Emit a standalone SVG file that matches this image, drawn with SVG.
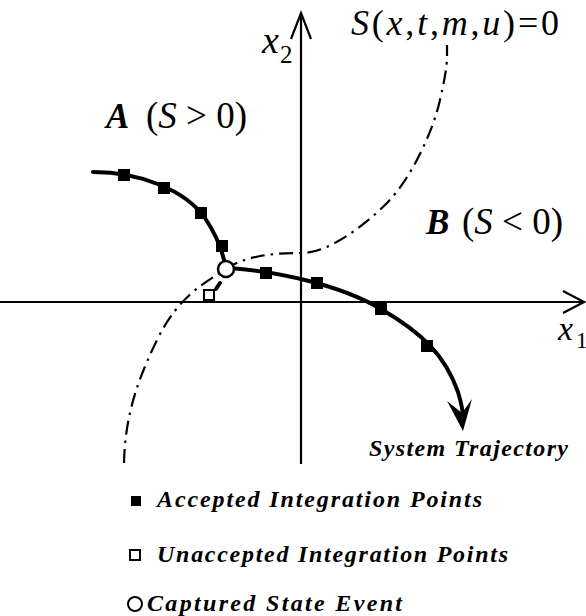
<svg xmlns="http://www.w3.org/2000/svg" width="586" height="616" viewBox="0 0 586 616">
<style>
.serif{font-family:"Liberation Serif","Times New Roman",serif;fill:#000}
.it{font-style:italic}
.bi{font-style:italic;font-weight:bold}
.axis{stroke:#000;stroke-width:2.2;fill:none}
.traj{stroke:#000;stroke-width:4;fill:none;stroke-linecap:round}
.sw{stroke:#000;stroke-width:2.2;fill:none;stroke-dasharray:14 6 2.5 6}
.acc{fill:#000}
.unacc{fill:#fff;stroke:#000;stroke-width:2}
.evt{fill:#fff;stroke:#000;stroke-width:2.5}
.leg{font-family:"Liberation Serif","Times New Roman",serif;font-style:italic;font-weight:bold;font-size:24px}
</style>
<defs>
<rect id="accPt" x="-6" y="-6" width="12" height="12" class="acc"/>
</defs>
<g id="axes">
<line class="axis" x1="0" y1="302" x2="584" y2="302"/>
<polyline class="axis" points="563,291 584,302 563,313"/>
<line class="axis" x1="301" y1="464" x2="301" y2="13"/>
<polyline class="axis" points="291,39 301,13 311,39"/>
<text class="serif it" x="262" y="53" font-size="38">x</text>
<text class="serif" x="280" y="63" font-size="25">2</text>
<text class="serif it" x="558" y="340" font-size="34">x</text>
<text class="serif" x="576" y="348" font-size="23">1</text>
</g>
<g id="switching-surface">
<path class="sw" d="M124,463 C125,420 135,385 157,340 C179,295 205,283 226,269 C247,255 275,253 302,253 C329,253 365,225 387,203 C409,181 432,135 440,100 C448,65 447,60 447,45"/>
<text class="serif" x="351" y="35" font-size="36" textLength="208" lengthAdjust="spacing"><tspan class="it">S</tspan>(<tspan class="it">x</tspan>,<tspan class="it">t</tspan>,<tspan class="it">m</tspan>,<tspan class="it">u</tspan>)=0</text>
</g>
<g id="region-A">
<text class="serif bi" x="106" y="128" font-size="35">A</text>
<text class="serif" x="146" y="128" font-size="37" textLength="101" lengthAdjust="spacing">(<tspan class="it">S</tspan> &gt; 0)</text>
</g>
<g id="region-B">
<text class="serif bi" x="426" y="234" font-size="35">B</text>
<text class="serif" x="462" y="234" font-size="37" textLength="101" lengthAdjust="spacing">(<tspan class="it">S</tspan> &lt; 0)</text>
</g>
<g id="connectors">
<path class="traj" d="M93,172 C140,172 185,190 205,218 C213,230 220,243 224,260 L226,269"/>
<path class="traj" d="M230,268 C280,272 340,285 381,309 C422,333 445,355 458,392 C462,405 463,412 463,418"/>
<path d="M463,431 L447,401 L462,413 L472,399 Z" fill="#000"/>
<line x1="216" y1="289" x2="220" y2="283" stroke="#000" stroke-width="4" stroke-linecap="round"/>
</g>
<g id="accepted-points">
<use href="#accPt" x="124" y="175"/>
<use href="#accPt" x="164" y="188"/>
<use href="#accPt" x="201" y="213"/>
<use href="#accPt" x="222" y="246"/>
<use href="#accPt" x="266" y="273"/>
<use href="#accPt" x="317" y="283"/>
<use href="#accPt" x="381" y="309"/>
<use href="#accPt" x="427" y="346"/>
</g>
<g id="unaccepted-point">
<rect class="unacc" x="204" y="290" width="10" height="10"/>
</g>
<g id="state-event">
<circle class="evt" cx="226" cy="269" r="8"/>
</g>
<g id="trajectory-label">
<text class="leg" x="369" y="456" font-size="21" textLength="199" lengthAdjust="spacing">System Trajectory</text>
</g>
<g id="legend">
<rect x="131" y="496" width="10" height="10" class="acc"/>
<text class="leg" x="157" y="507" textLength="325" lengthAdjust="spacing">Accepted Integration Points</text>
<rect x="130" y="550" width="10" height="10" class="unacc" stroke-width="1.6"/>
<text class="leg" x="157" y="562" textLength="351" lengthAdjust="spacing">Unaccepted Integration Points</text>
<circle cx="135" cy="604" r="7" class="unacc"/>
<text class="leg" x="147" y="611" textLength="255" lengthAdjust="spacing">Captured State Event</text>
</g>
</svg>
